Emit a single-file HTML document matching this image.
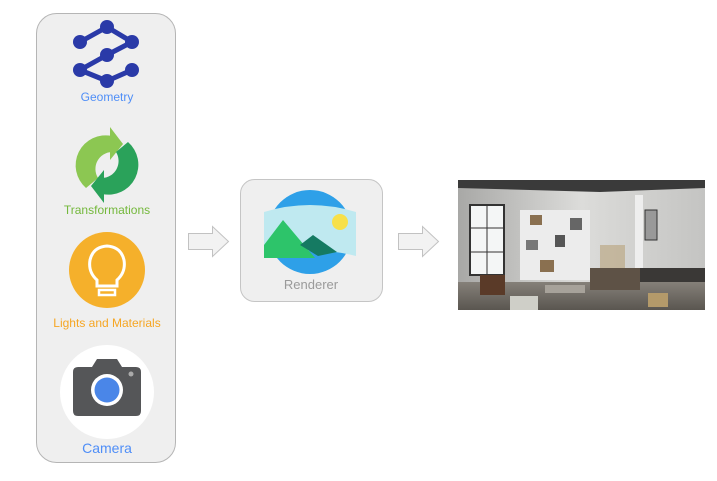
<!DOCTYPE html>
<html><head><style>
body{margin:0;width:717px;height:476px;background:#fff;overflow:hidden;font-family:"Liberation Sans",sans-serif}
</style></head><body>
<svg width="717" height="476" viewBox="0 0 717 476" xmlns="http://www.w3.org/2000/svg" font-family="Liberation Sans, sans-serif">
<rect x="36.5" y="13.5" width="139" height="449" rx="20" fill="#efefef" stroke="#b5b5b5"/>
<!-- geometry -->
<g stroke="#2a3aa8" stroke-width="5" fill="none" stroke-linejoin="round">
<polyline points="80,42 107,27 132,42 107,55 80,70 107,81 132,70"/>
</g>
<g fill="#2a3aa8">
<circle cx="80" cy="42" r="7"/><circle cx="107" cy="27" r="7"/><circle cx="132" cy="42" r="7"/>
<circle cx="107" cy="55" r="7"/><circle cx="80" cy="70" r="7"/><circle cx="107" cy="81" r="7"/><circle cx="132" cy="70" r="7"/>
</g>
<text x="107" y="101" font-size="12" fill="#4f8ef7" text-anchor="middle">Geometry</text>
<!-- transformations -->
<path d="M112,136 A30,30 0 0 0 86,188 L98,178 A17,17 0 0 1 112,152 Z" fill="#8cc752"/>
<polygon points="110,127 123,144 110,160" fill="#8cc752"/>
<path d="M102,194 A30,30 0 0 0 128,142 L116,152 A17,17 0 0 1 102,178 Z" fill="#2aa25a"/>
<polygon points="104,203 91,186 104,170" fill="#2aa25a"/>
<text x="107" y="214" font-size="12" fill="#74b83c" text-anchor="middle">Transformations</text>
<!-- lights -->
<circle cx="107" cy="270" r="38" fill="#f5b02b"/>
<path d="M97,286 L97,280 Q88,272 90,260 Q93,247 107,246 Q121,247 124,260 Q126,272 117,280 L117,286 Z" fill="none" stroke="#fff" stroke-width="3"/>
<rect x="99" y="290" width="16" height="5" fill="none" stroke="#fff" stroke-width="2.5"/>
<text x="107" y="327" font-size="12" fill="#f6a623" text-anchor="middle">Lights and Materials</text>
<!-- camera -->
<circle cx="107" cy="392" r="47" fill="#fff"/>
<path d="M73,372 Q73,367 78,367 L92,367 L97,359 L117,359 L122,367 L136,367 Q141,367 141,372 L141,411 Q141,416 136,416 L78,416 Q73,416 73,411 Z" fill="#555658"/>
<circle cx="107" cy="390" r="16" fill="#fff"/>
<circle cx="107" cy="390" r="12.5" fill="#4a86e8"/>
<circle cx="131" cy="374" r="2.5" fill="#aaa"/>
<text x="107" y="453" font-size="14" fill="#4f8ef7" text-anchor="middle">Camera</text>
<!-- arrows -->
<polygon points="188.5,233.5 212.5,233.5 212.5,226.5 228.5,241.5 212.5,256.5 212.5,249.5 188.5,249.5" fill="#f2f2f2" stroke="#c2c2c2"/>
<polygon points="398.5,233.5 422.5,233.5 422.5,226.5 438.5,241.5 422.5,256.5 422.5,249.5 398.5,249.5" fill="#f2f2f2" stroke="#c2c2c2"/>
<!-- renderer -->
<rect x="240.5" y="179.5" width="142" height="122" rx="14" fill="#efefef" stroke="#c5c5c5"/>
<circle cx="310" cy="232" r="42" fill="#2ea0e8"/>
<path d="M264,212 Q310,198 356,212 L356,256 Q310,244 264,258 Z" fill="#bfe9f0"/>
<polygon points="264,245 283,220 315,258 264,258" fill="#2dc46a"/>
<polygon points="300,245 313,235 337,252 318,256" fill="#157a62"/>
<circle cx="340" cy="222" r="8" fill="#f7e049"/>
<text x="311" y="289" font-size="13" fill="#9a9a9a" text-anchor="middle">Renderer</text>
<!-- photo -->
<defs>
<linearGradient id="wall" x1="0" y1="0" x2="1" y2="0"><stop offset="0" stop-color="#a8a8a6"/><stop offset=".5" stop-color="#dcdcda"/><stop offset="1" stop-color="#c4c4c2"/></linearGradient>
<linearGradient id="floor" x1="0" y1="0" x2="0" y2="1"><stop offset="0" stop-color="#858079"/><stop offset="1" stop-color="#5a5650"/></linearGradient>
</defs>
<rect x="458" y="180" width="247" height="130" fill="url(#wall)"/>
<polygon points="458,180 705,180 705,188 600,192 458,188" fill="#3a3a3a"/>
<rect x="470" y="205" width="34" height="70" fill="#f4f6f6" stroke="#333" stroke-width="2"/>
<line x1="487" y1="205" x2="487" y2="275" stroke="#333"/>
<line x1="470" y1="228" x2="504" y2="228" stroke="#333"/>
<line x1="470" y1="252" x2="504" y2="252" stroke="#333"/>
<rect x="635" y="195" width="8" height="75" fill="#eee"/>
<rect x="645" y="210" width="12" height="30" fill="#999" stroke="#333"/>
<rect x="520" y="210" width="70" height="70" fill="#ececec"/>
<rect x="530" y="215" width="12" height="10" fill="#8a7050"/><rect x="555" y="235" width="10" height="12" fill="#555"/><rect x="540" y="260" width="14" height="12" fill="#8a7050"/>
<rect x="570" y="218" width="12" height="12" fill="#666"/><rect x="526" y="240" width="12" height="10" fill="#777"/>
<rect x="600" y="245" width="25" height="30" fill="#b8a27a" opacity=".6"/>
<rect x="640" y="268" width="65" height="22" fill="#3a3836"/>
<rect x="458" y="282" width="247" height="28" fill="url(#floor)"/>
<rect x="590" y="268" width="50" height="22" fill="#5e5246"/>
<rect x="480" y="275" width="25" height="20" fill="#5a3a28"/>
<rect x="510" y="296" width="28" height="14" fill="#cfcfc8"/>
<rect x="545" y="285" width="40" height="8" fill="#a7a29a"/>
<rect x="648" y="293" width="20" height="14" fill="#b49a6a"/>
</svg>
</body></html>
